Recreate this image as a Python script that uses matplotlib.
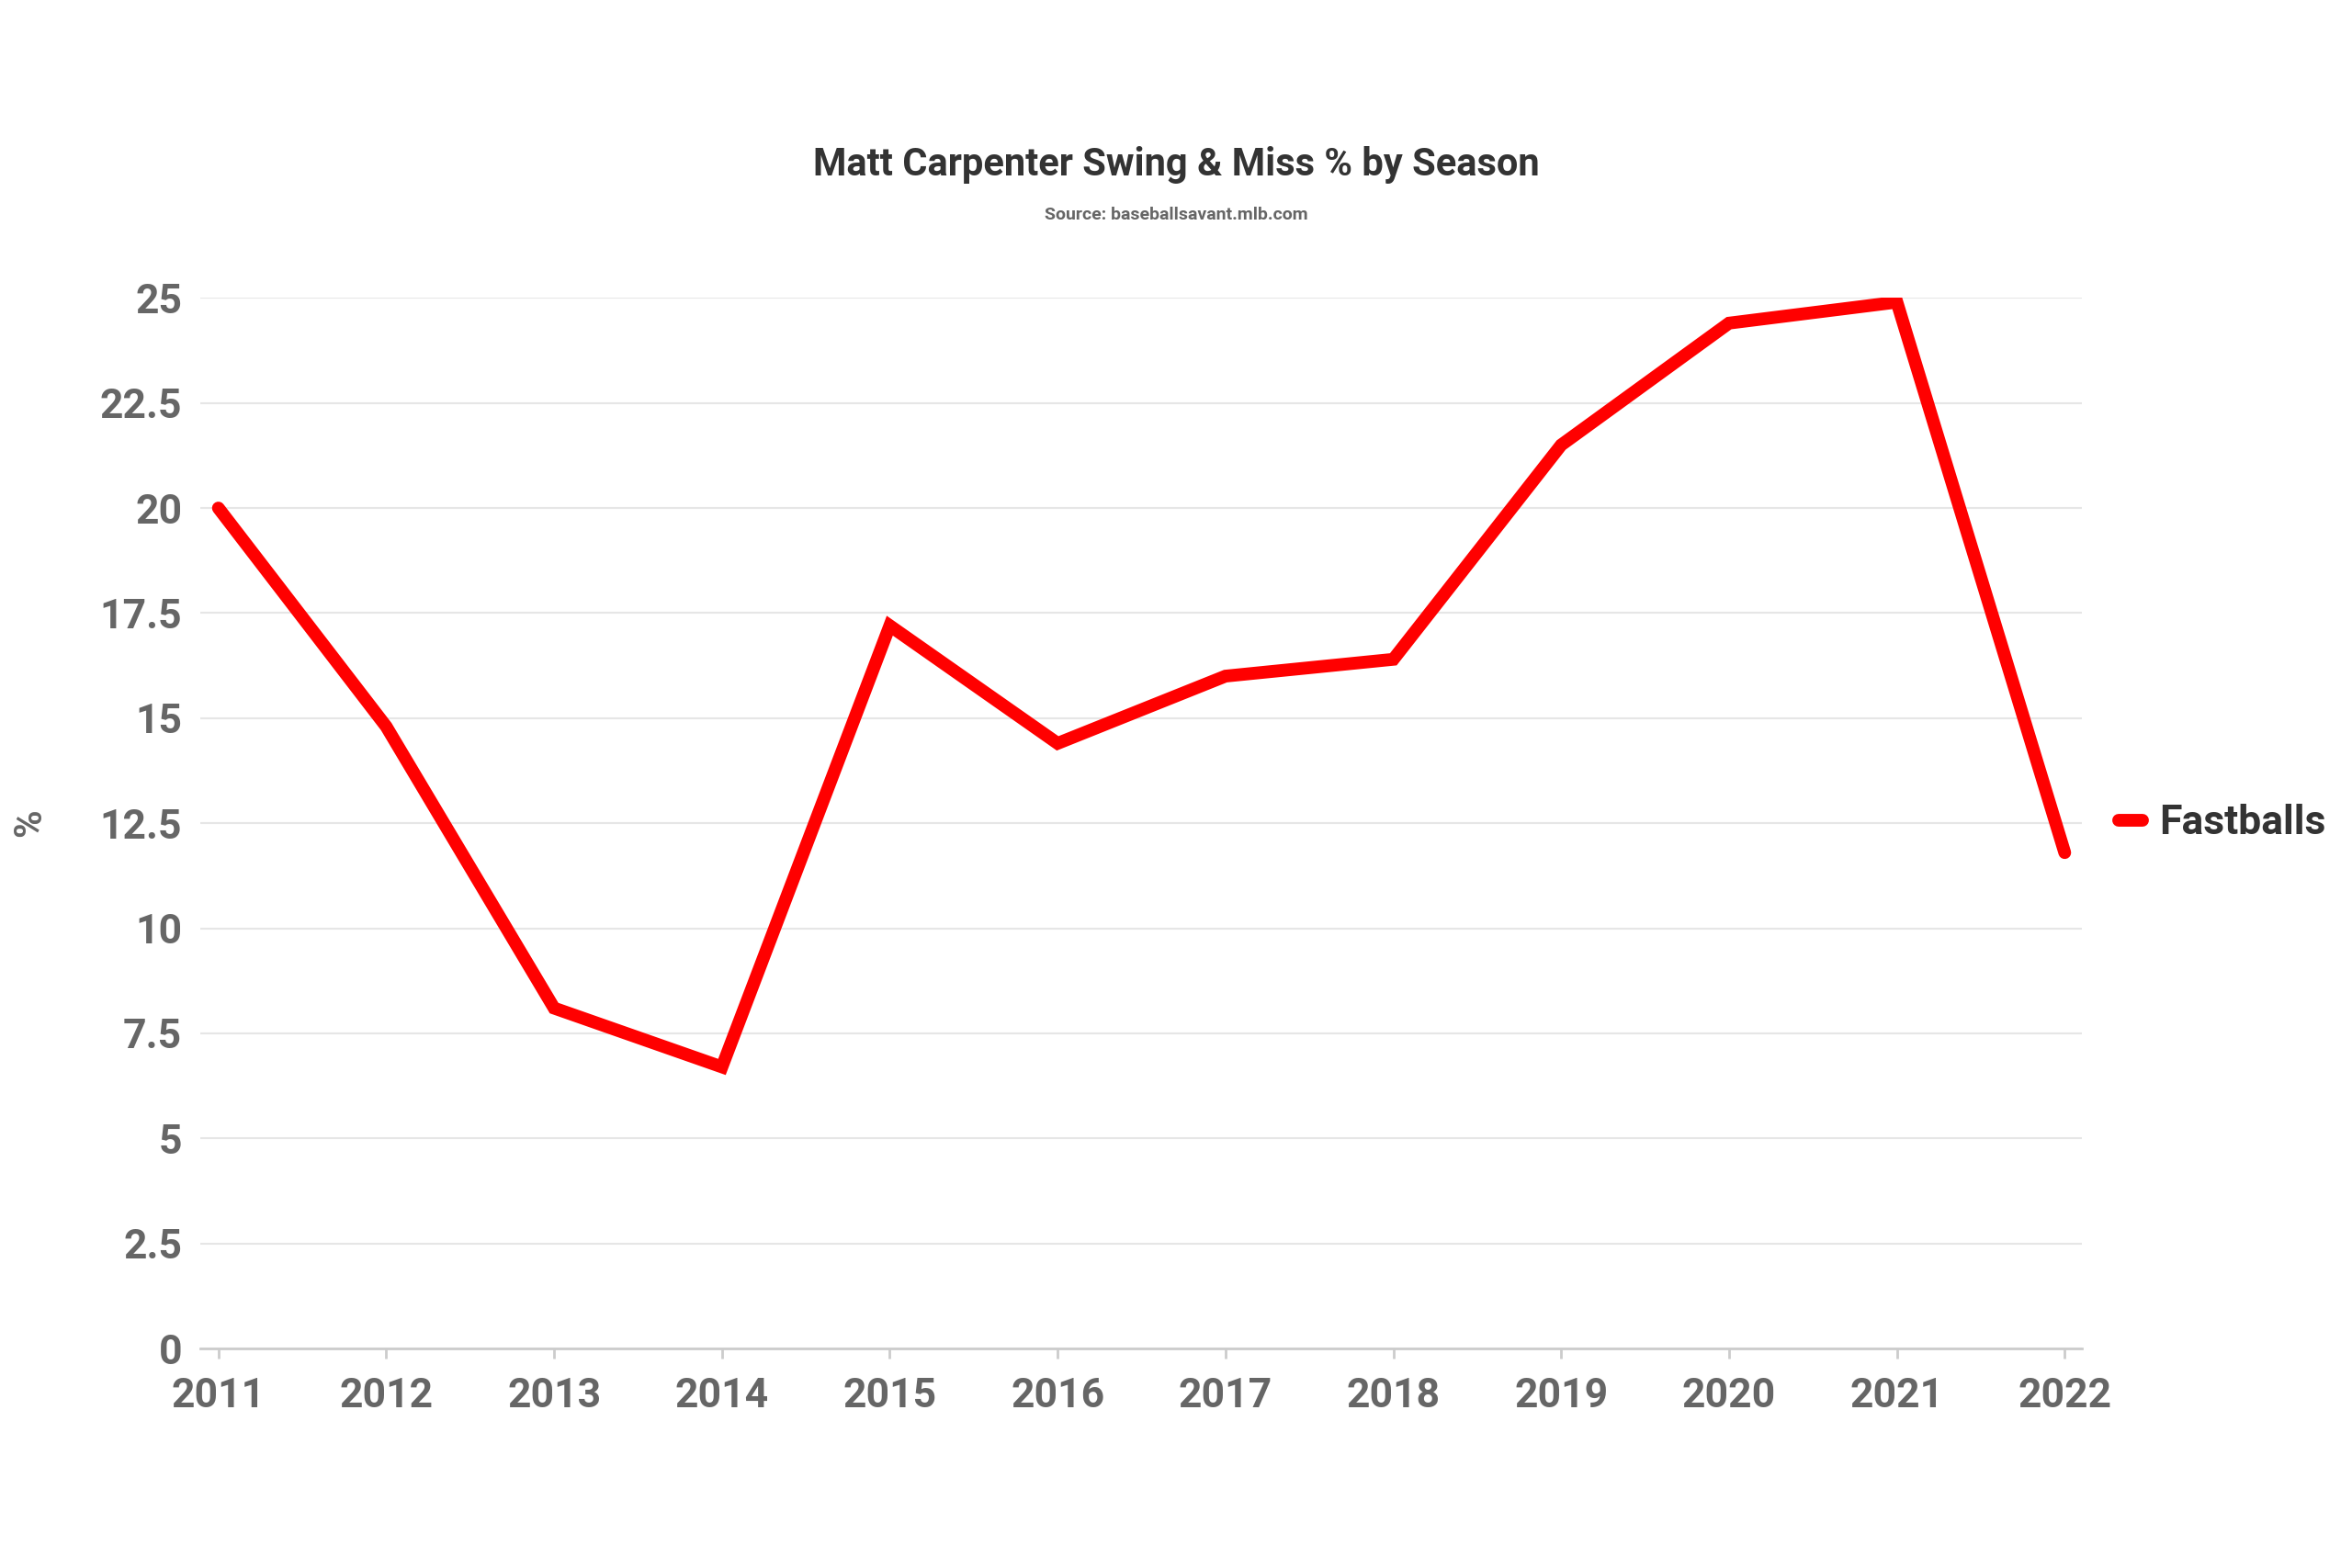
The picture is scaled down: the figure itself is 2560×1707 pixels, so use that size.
import matplotlib.pyplot as plt

plt.rcParams['font.family'] = ['Roboto', 'DejaVu Sans']
plt.rcParams['font.weight'] = 'bold'

seasons = [2011, 2012, 2013, 2014, 2015, 2016, 2017, 2018, 2019, 2020, 2021, 2022]
fastballs = [20.0, 14.8, 8.1, 6.7, 17.2, 14.4, 16.0, 16.4, 21.5, 24.4, 24.9, 11.8]

fig = plt.figure(figsize=(25.6, 17.07), dpi=100)
ax = fig.add_axes([0.085, 0.14, 0.80, 0.67])

ax.plot(seasons, fastballs, color='#ff0000', linewidth=10, label='Fastballs',
        solid_capstyle='round', solid_joinstyle='miter')

ax.set_xlim(2010.89, 2022.1)
ax.set_ylim(0, 25)
ax.set_xticks(seasons)
ax.set_yticks([0, 2.5, 5, 7.5, 10, 12.5, 15, 17.5, 20, 22.5, 25])
ax.set_yticklabels(['0', '2.5', '5', '7.5', '10', '12.5', '15', '17.5', '20', '22.5', '25'])
ax.tick_params(axis='both', labelsize=32, colors='#666666', length=0, pad=14)
ax.tick_params(axis='x', length=8, color='#cccccc', width=2)
for lab in ax.get_xticklabels() + ax.get_yticklabels():
    lab.set_fontweight('bold')
ax.grid(axis='y', color='#e6e6e6', linewidth=1.5)
ax.set_axisbelow(True)
for s in ['top', 'right', 'left']:
    ax.spines[s].set_visible(False)
ax.spines['bottom'].set_color('#cccccc')
ax.spines['bottom'].set_linewidth(2)
ax.set_ylabel('%', fontsize=30, color='#666666', fontweight='bold', labelpad=40)

fig.text(0.5, 0.895, 'Matt Carpenter Swing & Miss % by Season', ha='center', va='center',
         fontsize=30, fontweight='bold', color='#333333')
fig.text(0.5, 0.863, 'Source: baseballsavant.mlb.com', ha='center', va='center',
         fontsize=14, fontweight='bold', color='#666666')

leg = ax.legend(loc='center left', bbox_to_anchor=(1.0, 0.5), frameon=False,
                fontsize=32, handlelength=0.6, handletextpad=0.4)
for t in leg.get_texts():
    t.set_color('#333333')
    t.set_fontweight('bold')

fig.savefig('out.png', dpi=100, facecolor='white')
